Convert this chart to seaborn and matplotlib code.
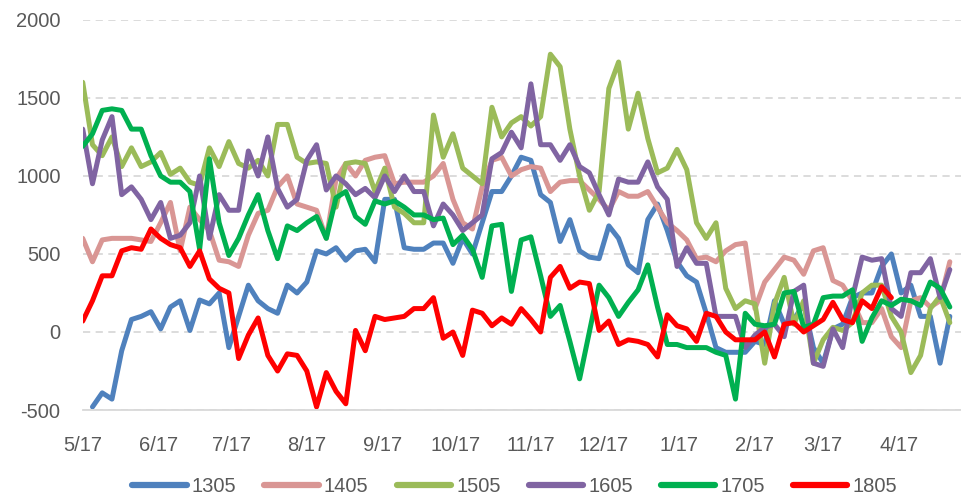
import matplotlib
matplotlib.use("Agg")
import matplotlib.pyplot as plt
import numpy as np
import pandas as pd
import seaborn as sns

# sampled every 4 days starting 5/17
dates = pd.date_range("2017-05-17", periods=90, freq="4D")

s1305 = [np.nan, -480, -390, -430, -120, 80, 100, 130, 20, 160,
         200, 10, 205, 180, 250, -100, 100, 300, 200, 150,
         120, 300, 250, 320, 520, 500, 540, 460, 520, 530,
         450, 850, 850, 540, 530, 530, 570, 570, 440, 600,
         500, 700, 900, 900, 1000, 1120, 1100, 880, 830, 580,
         720, 520, 480, 470, 680, 600, 430, 380, 720, 820,
         650, 450, 360, 320, 120, -100, -130, -130, -130, -60,
         -80, 200, 50, 80, 180, -100, -200, 20, 50, 220,
         250, 250, 420, 500, 250, 300, 100, 100, -200, 100]

s1405 = [600, 450, 590, 600, 600, 600, 590, 580, 700, 830,
         520, 800, 720, 650, 460, 450, 420, 620, 760, 780,
         930, 1000, 820, 800, 780, 600, 980, 1080, 1000, 1100,
         1120, 1130, 950, 960, 960, 960, 1000, 1080, 850, 700,
         660, 930, 1100, 1120, 1000, 1040, 1060, 1050, 900, 960,
         970, 970, 910, 850, 780, 900, 870, 870, 900, 800,
         700, 650, 590, 470, 480, 450, 520, 560, 570, 150,
         320, 400, 480, 460, 370, 520, 540, 330, 300, 200,
         60, 60, 150, -30, -100, 200, 220, 160, 200, 450]

s1505 = [1600, 1200, 1130, 1250, 1060, 1180, 1060, 1090, 1150, 1010,
         1050, 960, 940, 1180, 1060, 1220, 1080, 1050, 1100, 1000,
         1330, 1330, 1120, 1080, 1090, 1080, 800, 1080, 1090, 1080,
         900, 1050, 800, 760, 700, 700, 1390, 1120, 1270, 1050,
         1000, 950, 1440, 1250, 1340, 1380, 1320, 1380, 1780, 1700,
         1300, 1000, 780, 900, 1560, 1730, 1300, 1530, 1240, 1020,
         1050, 1170, 1040, 700, 600, 700, 280, 150, 200, 180,
         -200, 180, 350, 50, 200, -200, -50, 30, 10, 60,
         250, 300, 300, 100, 0, -260, -150, 150, 230, 60]

s1605 = [1300, 950, 1230, 1380, 880, 930, 850, 720, 830, 600,
         620, 700, 1000, 600, 880, 780, 780, 1160, 1000, 1250,
         920, 800, 850, 1100, 1200, 910, 1000, 950, 880, 920,
         860, 1000, 900, 1000, 900, 900, 680, 820, 750, 650,
         700, 750, 1110, 1150, 1280, 1180, 1590, 1200, 1200, 1100,
         1200, 1060, 1020, 880, 750, 980, 960, 960, 1090, 930,
         850, 420, 540, 440, 440, 100, 100, 100, -100, -20,
         30, 50, -30, 260, 300, -200, -220, 20, -100, 220,
         480, 460, 470, 150, 100, 380, 380, 470, 220, 400]

s1705 = [1190, 1270, 1420, 1430, 1420, 1300, 1300, 1130, 1000, 960,
         960, 900, 530, 1110, 700, 490, 600, 750, 880, 650,
         470, 680, 650, 700, 740, 600, 860, 900, 740, 690,
         840, 820, 840, 800, 750, 750, 720, 730, 560, 620,
         530, 350, 680, 690, 260, 590, 610, 360, 100, 170,
         -60, -300, 0, 300, 220, 100, 190, 270, 430, 160,
         -80, -80, -100, -100, -100, -130, -150, -430, 120, 50,
         40, 50, 250, 260, 30, 50, 220, 230, 230, 270,
         -60, 90, 200, 170, 210, 200, 170, 320, 280, 160]

s1805 = [70, 200, 360, 360, 520, 540, 530, 660, 600, 560,
         540, 420, 520, 340, 280, 250, -170, -20, 90, -150,
         -250, -140, -150, -250, -480, -260, -380, -460, 10, -120,
         100, 80, 90, 100, 150, 150, 220, -40, 0, -150,
         140, 120, 40, 90, 50, 150, 80, 0, 350, 420,
         280, 320, 310, 10, 70, -80, -50, -60, -80, -160,
         110, 40, 20, -60, 120, 100, 0, -50, -50, -50,
         0, -160, 50, 60, 0, 40, 80, 190, 80, 60,
         200, 150, 290, 220, np.nan, np.nan, np.nan, np.nan, np.nan, np.nan]

series = {"1305": s1305, "1405": s1405, "1505": s1505,
          "1605": s1605, "1705": s1705, "1805": s1805}
colors = ["#4F81BD", "#D99694", "#9BBB59", "#8064A2", "#00B050", "#FF0000"]

df = pd.concat([pd.DataFrame({"date": dates, "value": v, "contract": k})
                for k, v in series.items()]).dropna()

sns.set_style("white")
plt.rcParams["font.family"] = ["Liberation Sans", "DejaVu Sans"]
plt.rcParams["axes.unicode_minus"] = False

fig = plt.figure(figsize=(9.62, 4.97), dpi=100)
ax = fig.add_axes([0.086, 0.175, 0.914, 0.785])

sns.lineplot(data=df, x="date", y="value", hue="contract", palette=colors,
             estimator=None, linewidth=3.6, ax=ax, legend=False)

ax.set_ylim(-500, 2000)
ax.set_yticks(range(-500, 2001, 500))
ax.set_xlim(pd.Timestamp("2017-05-17"), pd.Timestamp("2018-05-13"))
# month ticks on the 17th: 5/17 ... 4/17
ticks = pd.date_range("2017-05-01", periods=12, freq="MS") + pd.Timedelta(days=16)
ax.set_xticks(ticks)
ax.set_xticklabels([f"{d.month}/{d.day}" for d in ticks])
ax.set_xlabel("")
ax.set_ylabel("")

ax.yaxis.grid(True, color="#D9D9D9", linestyle=(0, (4, 3)), linewidth=1.3)
ax.xaxis.grid(False)
for side in ["top", "right", "left"]:
    ax.spines[side].set_visible(False)
ax.spines["bottom"].set_color("#D9D9D9")
ax.spines["bottom"].set_linewidth(1.3)
ax.tick_params(axis="x", colors="#D9D9D9", length=7, width=1.3, pad=12,
               labelcolor="#595959", labelsize=14.5)
ax.tick_params(axis="y", length=0, labelcolor="#595959", labelsize=14.5, pad=16)

handles = [plt.Line2D([], [], color=c, linewidth=4.5, solid_capstyle="round")
           for c in colors]
fig.legend(handles, list(series.keys()), loc="lower center", ncol=6,
           bbox_to_anchor=(0.535, -0.035), frameon=False, fontsize=14.5,
           handlelength=2.7, handletextpad=0.25, columnspacing=1.4,
           labelcolor="#595959")

fig.savefig("out.png", dpi=100)
